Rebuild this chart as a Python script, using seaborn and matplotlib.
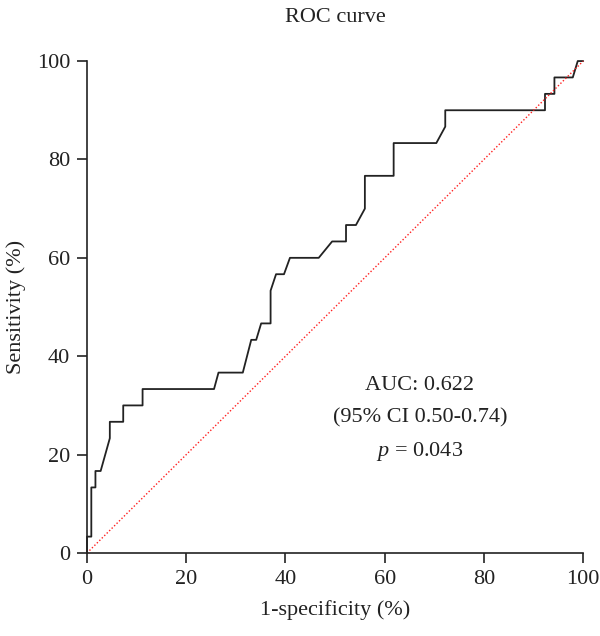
import matplotlib
matplotlib.use("Agg")
import matplotlib.pyplot as plt
import seaborn as sns
import pandas as pd

fpr = [0, 0, 0.87, 0.87, 1.7, 1.7, 2.75, 4.6, 4.6, 7.3, 7.3, 11.2, 11.2, 25.6, 26.5,
       31.4, 33.1, 34.1, 35.1, 37.0, 37.0, 38.1, 39.7, 40.9, 46.7, 49.4, 52.2, 52.2,
       54.2, 56.0, 56.0, 61.8, 61.8, 70.4, 72.2, 72.2, 92.3, 92.3, 94.2, 94.2, 97.9,
       98.9, 100]
tpr = [0, 3.33, 3.33, 13.33, 13.33, 16.67, 16.67, 23.33, 26.67, 26.67, 30, 30, 33.33,
       33.33, 36.67, 36.67, 43.33, 43.33, 46.67, 46.67, 53.33, 56.67, 56.67, 60, 60,
       63.33, 63.33, 66.67, 66.67, 70, 76.67, 76.67, 83.33, 83.33, 86.67, 90, 90,
       93.33, 93.33, 96.67, 96.67, 100, 100]
ref_x = [0, 100]
ref_y = [0, 100]

sns.set_theme(style="ticks")
plt.rcParams['font.family'] = ['Liberation Serif', 'DejaVu Serif']
plt.rcParams['mathtext.fontset'] = 'custom'
plt.rcParams['mathtext.it'] = 'Liberation Serif:italic'
plt.rcParams['mathtext.rm'] = 'Liberation Serif'

FS = 16
TXT = "#222222"

fig = plt.figure(figsize=(6, 6.36), dpi=100)
ax = fig.add_axes([0.145, 0.1305, 0.827, 0.7735])

df = pd.DataFrame({"x": fpr, "y": tpr})
sns.lineplot(data=df, x="x", y="y", sort=False, estimator=None, ax=ax,
             color="#222222", linewidth=1.3, clip_on=False)
sns.lineplot(x=ref_x, y=ref_y, ax=ax, color="#ff2020", linewidth=1.0,
             linestyle=(0, (1, 1.5)), clip_on=False)

ax.set_xlim(0, 100)
ax.set_ylim(0, 100)
ax.set_xticks(range(0, 101, 20))
ax.set_yticks(range(0, 101, 20))
sns.despine(ax=ax)
for s in ["left", "bottom"]:
    ax.spines[s].set_linewidth(1.2)
    ax.spines[s].set_color("#222222")
ax.tick_params(axis="both", length=7, width=1.2, color="#222222",
               labelsize=FS, labelcolor=TXT, pad=5, direction="out")

ax.set_xlabel("1-specificity (%)", fontsize=FS, color=TXT, labelpad=8)
ax.set_ylabel("Sensitivity (%)", fontsize=FS, color=TXT, labelpad=8)
ax.set_title("ROC curve", fontsize=FS, color=TXT, pad=28)

ax.text(67.1, 34.1, "AUC: 0.622", ha="center", va="center", fontsize=FS, color=TXT)
ax.text(67.1, 27.4, "(95% CI 0.50-0.74)", ha="center", va="center", fontsize=FS, color=TXT)
ax.text(67.1, 20.7, r"$\it{p}$ = 0.043", ha="center", va="center", fontsize=FS, color=TXT)

fig.savefig("out.png", dpi=100)
